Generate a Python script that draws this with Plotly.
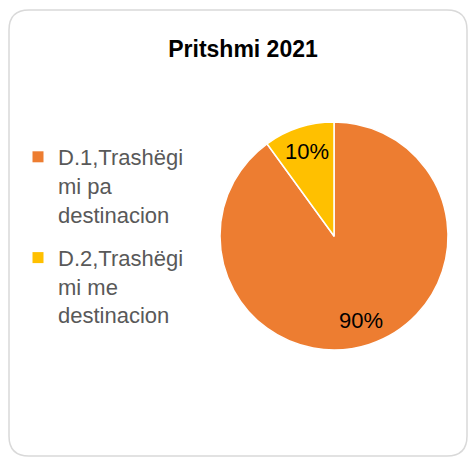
import math
import plotly.graph_objects as go

W, H = 469, 458

labels = ["D.1,Trashëgimi pa destinacion", "D.2,Trashëgimi me destinacion"]
legend_labels = ["D.1,Trashëgi<br>mi pa<br>destinacion", "D.2,Trashëgi<br>mi me<br>destinacion"]
values = [90, 10]
colors = ["#ED7D31", "#FFC000"]
title = "Pritshmi 2021"


def px(x):
    return x / W


def py(y):
    return 1 - y / H


# pie geometry (pixels)
CX, CY, R = 334, 236, 114
LABEL_R = 0.78

fig = go.Figure()
fig.add_trace(go.Pie(
    labels=labels,
    values=values,
    sort=False,
    direction="clockwise",
    rotation=0,
    marker=dict(colors=colors, line=dict(color="white", width=1.5)),
    textinfo="none",
    showlegend=False,
    domain=dict(x=[px(CX - R), px(CX + R)], y=[py(CY + R), py(CY - R)]),
    hoverinfo="label+percent",
))

# legend entries (square markers) via empty scatter traces
for lab, col in zip(legend_labels, colors):
    fig.add_trace(go.Scatter(
        x=[None], y=[None], mode="markers", name=lab,
        legendgroup=lab,
        marker=dict(symbol="square", size=11, color=col),
        hoverinfo="skip",
    ))

# percentage labels computed from the values
total = sum(values)
annotations = []
cum = 0
for v in values:
    mid = (cum + v / 2) / total * 2 * math.pi
    cum += v
    lx = CX + LABEL_R * R * math.sin(mid)
    ly = CY - LABEL_R * R * math.cos(mid)
    annotations.append(dict(
        text=f"{round(v / total * 100)}%", x=px(lx), y=py(ly), xref="paper", yref="paper",
        showarrow=False, xanchor="center", yanchor="middle",
        font=dict(family="Liberation Sans", size=22, color="#000000"),
    ))

# rounded border
x0, x1, y0, y1, r = 9, 467, 10, 456, 20
path = (
    f"M {px(x0 + r)} {py(y0)} L {px(x1 - r)} {py(y0)} "
    f"Q {px(x1)} {py(y0)} {px(x1)} {py(y0 + r)} "
    f"L {px(x1)} {py(y1 - r)} Q {px(x1)} {py(y1)} {px(x1 - r)} {py(y1)} "
    f"L {px(x0 + r)} {py(y1)} Q {px(x0)} {py(y1)} {px(x0)} {py(y1 - r)} "
    f"L {px(x0)} {py(y0 + r)} Q {px(x0)} {py(y0)} {px(x0 + r)} {py(y0)} Z"
)

fig.update_layout(
    width=W, height=H,
    margin=dict(l=0, r=0, t=0, b=0),
    paper_bgcolor="white",
    plot_bgcolor="white",
    xaxis=dict(visible=False),
    yaxis=dict(visible=False),
    title=dict(text=f"<b>{title}</b>", x=243 / W, xanchor="center",
               y=py(49), yanchor="middle",
               font=dict(family="Liberation Sans", size=23, color="#000000")),
    legend=dict(x=px(18), y=py(136), xanchor="left", yanchor="top",
                valign="top", traceorder="grouped", tracegroupgap=12,
                font=dict(family="Liberation Sans", size=22, color="#595959"),
                bgcolor="rgba(0,0,0,0)"),
    annotations=annotations,
    shapes=[dict(type="path", path=path, xref="paper", yref="paper",
                 line=dict(color="#D9D9D9", width=1.5), layer="below")],
)

fig.write_html("out.html", config={"displayModeBar": False},
               post_script="document.body.style.margin='0';")
